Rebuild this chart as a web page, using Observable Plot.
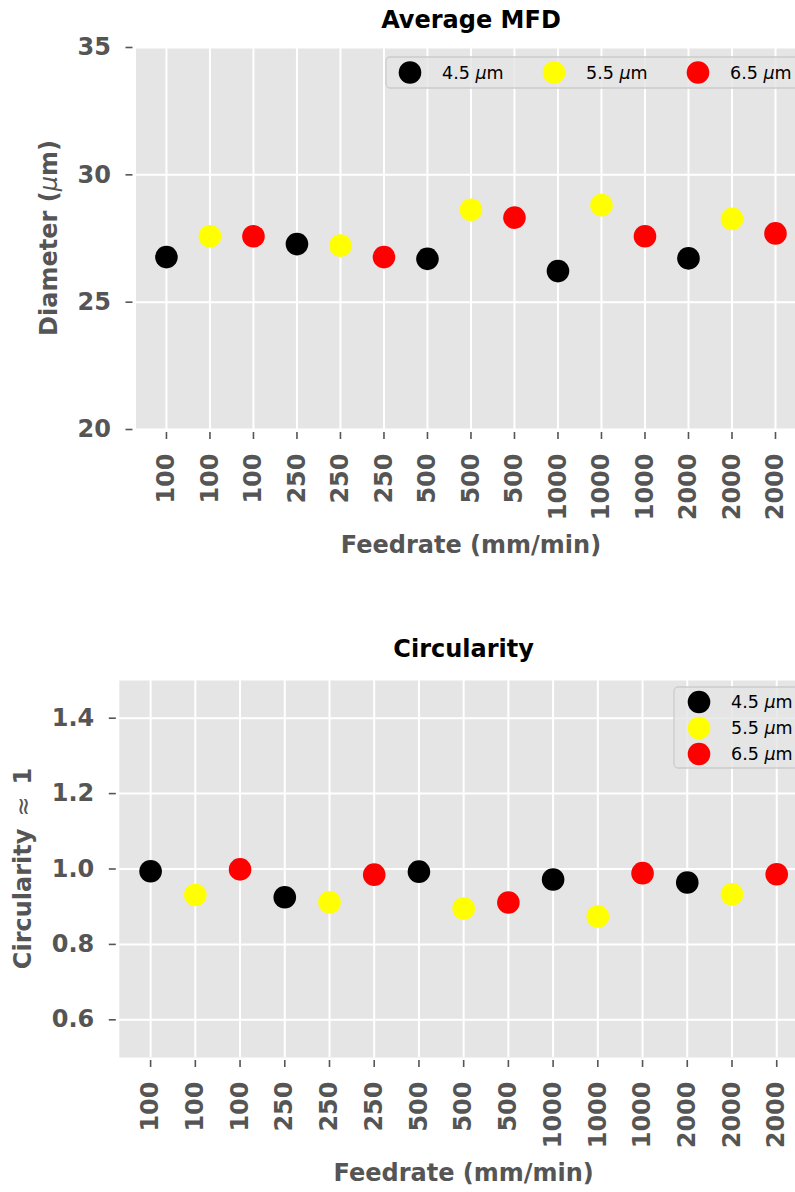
<!DOCTYPE html>
<html>
<head>
<meta charset="utf-8">
<script src="https://cdn.jsdelivr.net/npm/d3@7"></script>
<script src="https://cdn.jsdelivr.net/npm/@observablehq/plot@0.6"></script>
<style>
  body { margin: 0; background: #fff; }
  #wrap { position: relative; width: 795px; height: 1192px; overflow: hidden; }
  #wrap svg { position: absolute; left: 0; overflow: hidden; }
</style>
</head>
<body>
<div id="wrap"></div>
<script>
// Feedrate of each run (mm/min), three spot sizes per feedrate
const feedrates = ["100", "100", "100", "250", "250", "250", "500", "500", "500",
                   "1000", "1000", "1000", "2000", "2000", "2000"];
const spotSizes = ["4.5", "5.5", "6.5"];
const spotColors = ["#000000", "#ffff00", "#ff0000"];

// Average mode-field diameter (µm) per run
const diameter = [26.77, 27.59, 27.59, 27.28, 27.22, 26.77, 26.70, 28.63, 28.32,
                  26.22, 28.81, 27.59, 26.72, 28.27, 27.70];
// Circularity per run
const circularity = [0.994, 0.931, 0.999, 0.925, 0.912, 0.985, 0.993, 0.895, 0.911,
                     0.972, 0.874, 0.989, 0.964, 0.933, 0.986];

const diameterTicks = [20, 25, 30, 35];
const circularityTicks = [0.6, 0.8, 1.0, 1.2, 1.4];

const rows = feedrates.map((f, i) => ({
  i, feedrate: f, spot: spotSizes[i % spotSizes.length],
  diameter: diameter[i], circularity: circularity[i]
}));

const FONT = "DejaVu Sans";
const GREY = "#555555";

function panel(o) {
  const idx = d3.range(feedrates.length);
  const chart = Plot.plot({
    width: 795, height: o.height,
    marginTop: o.marginTop, marginBottom: o.marginBottom,
    marginLeft: o.marginLeft, marginRight: 0,
    style: { fontFamily: FONT, background: "transparent" },
    x: { type: "linear", domain: [-0.7, o.xMax] },
    y: { domain: o.yDomain },
    color: { domain: spotSizes, range: spotColors },
    marks: [
      Plot.frame({ fill: "#e5e5e5", stroke: null }),
      Plot.gridX(idx, { stroke: "white", strokeOpacity: 1, strokeWidth: 2 }),
      Plot.gridY(o.yTicks, { stroke: "white", strokeOpacity: 1, strokeWidth: 2 }),
      Plot.axisX(idx, {
        tickFormat: i => feedrates[i], tickRotate: -90, tickSize: 7, tickPadding: 14, dy: 3,
        fontSize: 24, fontWeight: "bold", color: GREY, strokeWidth: 1.6, label: null
      }),
      Plot.axisY(o.yTicks, {
        tickFormat: o.yFormat, tickSize: 7, tickPadding: o.yPad, dx: -3,
        fontSize: 24, fontWeight: "bold", color: GREY, strokeWidth: 1.6, label: null
      }),
      Plot.dot(rows, { x: "i", y: o.yField, fill: "spot", r: 11.3, stroke: null }),
      Plot.text([7], {
        x: d => d, text: () => o.title, frameAnchor: "top", lineAnchor: "bottom",
        dy: o.titleDy, fontSize: 24, fontWeight: "bold", fill: "black"
      }),
      Plot.text([7], {
        x: d => d, text: () => "Feedrate (mm/min)", frameAnchor: "bottom", lineAnchor: "top",
        dy: o.xLabelDy, fontSize: 24, fontWeight: "bold", fill: GREY
      })
    ]
  });
  chart.style.top = o.top + "px";

  const svg = d3.select(chart);
  // rotated y-axis label with italic mu
  const yl = svg.append("text")
    .attr("transform", `translate(${o.yLabelX},${o.yLabelY}) rotate(-90)`)
    .attr("text-anchor", "middle").attr("dominant-baseline", "central")
    .attr("font-family", FONT).attr("font-size", 24).attr("font-weight", "bold")
    .attr("fill", GREY);
  o.yLabel.forEach(([t, style]) => {
    const s = yl.append("tspan").text(t);
    if (style === "italic") s.attr("font-style", "italic").attr("font-weight", "normal");
    if (style === "normal") s.attr("font-weight", "normal");
  });

  // legend
  const L = o.legend;
  const g = svg.append("g").attr("text-anchor", "start");
  g.append("rect").attr("x", L.x).attr("y", L.y).attr("width", L.w).attr("height", L.h)
    .attr("rx", 4).attr("fill", "rgba(229,229,229,0.8)").attr("stroke", "#cccccc").attr("stroke-width", 1.3);
  spotSizes.forEach((s, k) => {
    const cx = L.cx[k], cy = L.cy[k];
    g.append("circle").attr("cx", cx).attr("cy", cy).attr("r", 11.3).attr("fill", spotColors[k]);
    const t = g.append("text").attr("x", cx + L.tx).attr("y", cy)
      .attr("text-anchor", "start")
      .attr("dominant-baseline", "central").attr("font-family", FONT)
      .attr("font-size", 17.5).attr("fill", "#000");
    t.append("tspan").text(s + " ");
    t.append("tspan").attr("font-style", "italic").text("μ");
    t.append("tspan").text("m");
  });
  return chart;
}

const wrap = document.getElementById("wrap");

wrap.appendChild(panel({
  top: 0, height: 600, marginTop: 47, marginBottom: 171, marginLeft: 135.5, xMax: 14.46,
  yField: "diameter", yDomain: [20, 35], yTicks: diameterTicks, yFormat: d3.format("d"), yPad: 15,
  title: "Average MFD", titleDy: -20, xLabelDy: 106,
  yLabel: [["Diameter ("], ["μ", "italic"], ["m)"]], yLabelX: 49, yLabelY: 238,
  legend: { x: 386, y: 57, w: 430, h: 31, cx: [410, 554, 698], cy: [72.5, 72.5, 72.5], tx: 32 }
}));

wrap.appendChild(panel({
  top: 600, height: 592, marginTop: 80, marginBottom: 135, marginLeft: 118.8, xMax: 14.42,
  yField: "circularity", yDomain: [0.5, 1.5], yTicks: circularityTicks, yFormat: d3.format(".1f"), yPad: 15,
  title: "Circularity", titleDy: -24, xLabelDy: 106,
  yLabel: [["Circularity\u2002"], ["≈", "normal"], ["\u20021"]], yLabelX: 23, yLabelY: 268.5,
  legend: { x: 674, y: 87, w: 140, h: 81, cx: [699, 699, 699], cy: [102, 128, 154], tx: 32 }
}));
</script>
</body>
</html>
